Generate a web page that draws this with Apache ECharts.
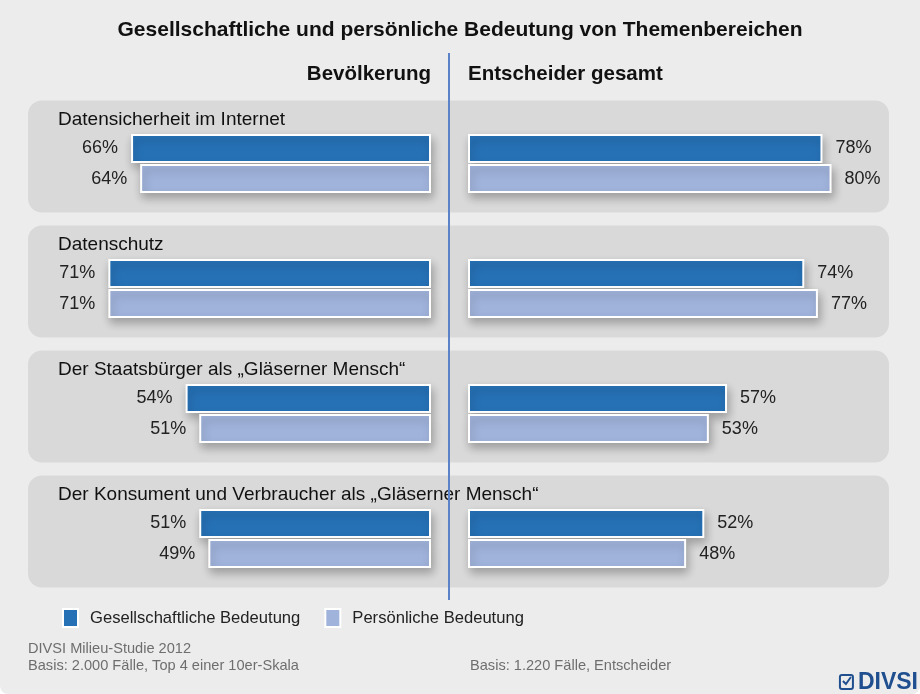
<!DOCTYPE html>
<html>
<head>
<meta charset="utf-8">
<script src="https://cdn.jsdelivr.net/npm/echarts@6/dist/echarts.min.js"></script>
<style>
  html, body { margin: 0; padding: 0; background: #ffffff; }
  #chart { width: 920px; height: 694px; background: #ececec; border-radius: 0 0 8px 8px; overflow: hidden; }
</style>
</head>
<body>
<div id="chart"></div>
<script>
// values
const topics = [
    'Datensicherheit im Internet',
    'Datenschutz',
    'Der Staatsbürger als „Gläserner Mensch“',
    'Der Konsument und Verbraucher als „Gläserner Mensch“'
];
const bevGesell = [66, 71, 54, 51];
const bevPers = [64, 71, 51, 49];
const entGesell = [78, 74, 57, 52];
const entPers = [80, 77, 53, 48];

const FONT = '"Liberation Sans", Arial, sans-serif';
const DARK = '#2671b6';
const LIGHT = '#a0b3db';

const chart = echarts.init(document.getElementById('chart'));

const barStyle = (color) => ({
    color: color,
    borderColor: '#ffffff',
    borderWidth: 2,
    shadowColor: 'rgba(0,0,0,0.28)',
    shadowBlur: 9,
    shadowOffsetX: 2,
    shadowOffsetY: 5
});

const valLabel = (pos) => ({
    show: true,
    position: pos,
    distance: 13,
    formatter: '{c}%',
    fontFamily: FONT,
    fontSize: 18,
    color: '#222222'
});

function barSeries(name, data, color, idx, pos) {
    return {
        name: name,
        type: 'bar',
        xAxisIndex: idx,
        yAxisIndex: idx,
        data: data,
        barWidth: 29,
        barGap: '4%',
        itemStyle: barStyle(color),
        label: valLabel(pos),
        z: 3
    };
}

const vGrid = { top: 101, bottom: 93 };
const catAxis = (idx) => ({
    type: 'category',
    gridIndex: idx,
    data: topics,
    inverse: true,
    show: false
});

let option = {
    animation: false,
    textStyle: { fontFamily: FONT },
    title: {
        text: 'Gesellschaftliche und persönliche Bedeutung von Themenbereichen',
        left: 'center',
        top: 20,
        padding: 0,
        textStyle: { fontFamily: FONT, fontSize: 21, fontWeight: 'bold', color: '#111111' }
    },
    legend: {
        left: 62,
        top: 608,
        padding: 0,
        itemWidth: 15,
        itemHeight: 18,
        itemGap: 24,
        icon: 'rect',
        textStyle: { fontFamily: FONT, fontSize: 16.6, color: '#222222', padding: [0, 0, 0, 7] },
        data: ['Gesellschaftliche Bedeutung', 'Persönliche Bedeutung']
    },
    grid: [
        { left: 22, right: 489, top: vGrid.top, bottom: vGrid.bottom },
        { left: 468, right: 43, top: vGrid.top, bottom: vGrid.bottom },
        { left: 28, right: 31, top: vGrid.top, bottom: vGrid.bottom }
    ],
    xAxis: [
        { type: 'value', gridIndex: 0, min: 0, max: 90, inverse: true, show: false },
        { type: 'value', gridIndex: 1, min: 0, max: 90, show: false },
        { type: 'value', gridIndex: 2, min: 0, max: 1, show: false }
    ],
    yAxis: [catAxis(0), catAxis(1), catAxis(2)],
    series: [
        {
            // grey rounded panels with the topic names
            type: 'custom',
            xAxisIndex: 2,
            yAxisIndex: 2,
            silent: true,
            z: 1,
            data: topics.map((t, i) => [0, i]),
            renderItem: function (params, api) {
                const c = api.coord([0, api.value(1)]);
                const cs = params.coordSys;
                return {
                    type: 'group',
                    children: [
                        {
                            type: 'rect',
                            shape: { x: cs.x, y: c[1] - 63, width: cs.width, height: 112, r: 14 },
                            style: { fill: '#d9d9d9' }
                        },
                        {
                            type: 'text',
                            style: {
                                text: topics[api.value(1)],
                                x: cs.x + 30,
                                y: c[1] - 44,
                                verticalAlign: 'middle',
                                font: '19px ' + FONT,
                                fill: '#111111'
                            }
                        }
                    ]
                };
            }
        },
        barSeries('Gesellschaftliche Bedeutung', bevGesell, DARK, 0, 'left'),
        barSeries('Persönliche Bedeutung', bevPers, LIGHT, 0, 'left'),
        barSeries('Gesellschaftliche Bedeutung', entGesell, DARK, 1, 'right'),
        barSeries('Persönliche Bedeutung', entPers, LIGHT, 1, 'right')
    ],
    graphic: [
        {
            type: 'line', z: 10,
            shape: { x1: 449, y1: 53, x2: 449, y2: 600 },
            style: { stroke: '#5b84c8', lineWidth: 2 }
        },
        {
            type: 'text', right: 489, top: 64,
            style: { text: 'Bevölkerung', font: 'bold 20.5px ' + FONT, fill: '#111111' }
        },
        {
            type: 'text', left: 468, top: 64,
            style: { text: 'Entscheider gesamt', font: 'bold 20.5px ' + FONT, fill: '#111111' }
        },
        {
            type: 'text', left: 28, top: 641,
            style: { text: 'DIVSI Milieu-Studie 2012', font: '14.6px ' + FONT, fill: '#6e6e6e' }
        },
        {
            type: 'text', left: 28, top: 658,
            style: { text: 'Basis: 2.000 Fälle, Top 4 einer 10er-Skala', font: '14.6px ' + FONT, fill: '#6e6e6e' }
        },
        {
            type: 'text', left: 470, top: 658,
            style: { text: 'Basis: 1.220 Fälle, Entscheider', font: '14.6px ' + FONT, fill: '#6e6e6e' }
        },
        {
            // DIVSI logo: checkbox glyph plus word mark
            type: 'group', right: 2, top: 671,
            children: [
                {
                    type: 'rect',
                    shape: { x: 0, y: 5, width: 13, height: 14, r: 2 },
                    style: { fill: 'none', stroke: '#1f4f8f', lineWidth: 2 }
                },
                {
                    type: 'polyline',
                    shape: { points: [[3, 11], [6, 14], [11, 7]] },
                    style: { fill: 'none', stroke: '#1f4f8f', lineWidth: 2 }
                },
                {
                    type: 'text', x: 18, y: 1,
                    style: { text: 'DIVSI', font: 'bold 23px ' + FONT, fill: '#1f4f8f' }
                }
            ]
        }
    ]
};

chart.setOption(option);
</script>
</body>
</html>
